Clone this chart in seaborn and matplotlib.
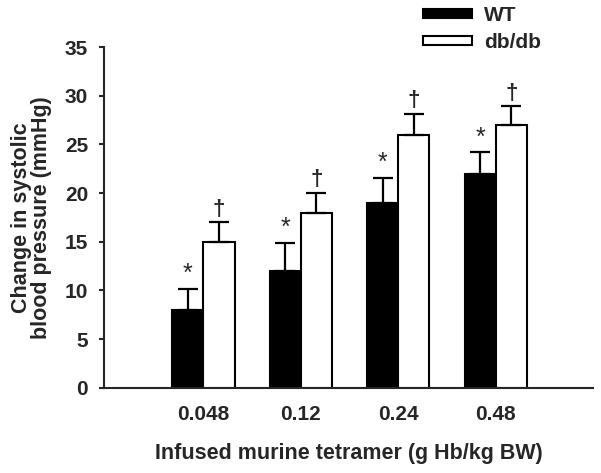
import pandas as pd
import numpy as np
import matplotlib.pyplot as plt
import seaborn as sns

sns.set_style('ticks')
plt.rcParams['font.family'] = ['Liberation Sans', 'DejaVu Sans']
plt.rcParams['font.weight'] = 'bold'

# data
doses = ['0.048', '0.12', '0.24', '0.48']
groups = ['WT', 'db/db']
wt_mean = [8.0, 12.0, 19.0, 22.0]
wt_err = [2.2, 2.9, 2.6, 2.2]
db_mean = [15.0, 18.0, 26.0, 27.0]
db_err = [2.0, 2.0, 2.1, 1.9]
marks = {'WT': '*', 'db/db': '\u2020'}

df = pd.DataFrame({
    'dose': doses * 2,
    'group': ['WT'] * 4 + ['db/db'] * 4,
    'mean': wt_mean + db_mean,
    'err': wt_err + db_err,
})

fig = plt.figure(figsize=(6.01, 4.73), dpi=100)
ax = fig.add_axes([0.173, 0.180, 0.814, 0.7206])

sns.barplot(data=df, x='dose', y='mean', hue='group', order=doses,
            hue_order=groups, palette=['black', 'white'], width=0.64,
            edgecolor='black', linewidth=1.5, errorbar=None, ax=ax)

# upper error bars + significance marks, positioned from the drawn bars
for grp, patches in zip(groups, ax.containers):
    sub = df[df['group'] == grp].set_index('dose').loc[doses]
    xs = [p.get_x() + p.get_width() / 2 for p in patches]
    ax.errorbar(xs, sub['mean'], yerr=[np.zeros(len(xs)), sub['err']],
                fmt='none', ecolor='black', elinewidth=1.6, capsize=7,
                capthick=1.6)
    for x, m, e in zip(xs, sub['mean'], sub['err']):
        ax.annotate(marks[grp], (x, m + e), xytext=(0, 2),
                    textcoords='offset points', ha='center', va='bottom',
                    fontsize=16 if grp == 'db/db' else 18,
                    fontweight='normal' if grp == 'WT' else 'bold')

ax.set_xlim(-1.02, 4.0)
ax.set_ylim(0, 35)
ax.set_yticks(np.arange(0, 36, 5))
sns.despine(ax=ax)
for s in ['left', 'bottom']:
    ax.spines[s].set_linewidth(1.5)
ax.tick_params(axis='x', length=0, pad=12, labelsize=15)
ax.tick_params(axis='y', length=3.5, width=1.5, pad=8, labelsize=15)

ax.set_xlabel('Infused murine tetramer (g Hb/kg BW)', fontsize=15.5,
              fontweight='bold', labelpad=14)
ax.set_ylabel('Change in systolic\nblood pressure (mmHg)', fontsize=15.5,
              fontweight='bold', linespacing=0.95)
ax.yaxis.set_label_coords(-0.106, 0.5)

handles, labels = ax.get_legend_handles_labels()
ax.legend(handles, labels, loc='upper left', frameon=False,
          bbox_to_anchor=(423 / 601, 1 - 6 / 473),
          bbox_transform=fig.transFigure, borderaxespad=0, borderpad=0,
          handlelength=2.35, handleheight=0.35, handletextpad=0.58,
          labelspacing=0.38, prop={'size': 15, 'weight': 'bold'})

fig.savefig('out.png', dpi=100)
